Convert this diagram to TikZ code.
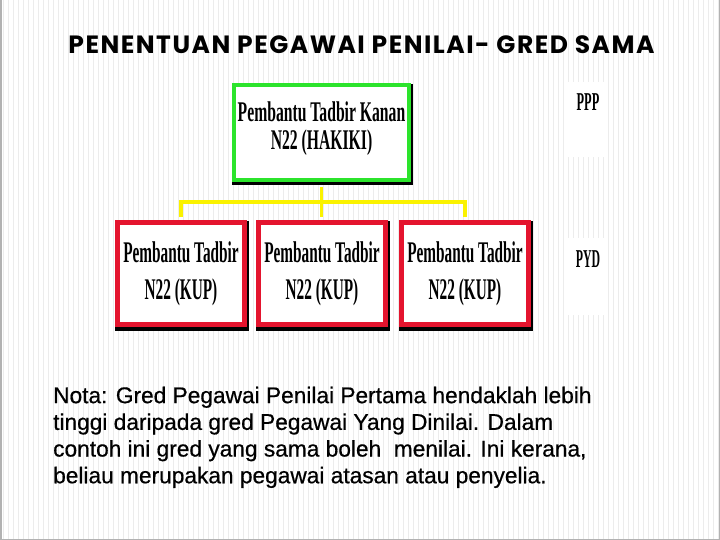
\documentclass[tikz,border=0pt]{standalone}
\usepackage{fontspec}
\setmainfont{Liberation Serif}
\newfontfamily\titlefont[LetterSpace=6]{Poppins}
\newfontfamily\notafont[FakeBold=0.6]{Liberation Sans}
\usetikzlibrary{positioning}
\definecolor{boxgreen}{RGB}{44,228,44}
\definecolor{boxred}{RGB}{228,20,46}
\definecolor{linkyellow}{RGB}{250,242,0}
\definecolor{stripegray}{RGB}{236,236,236}
\newcommand{\cnd}[2][0.55]{\scalebox{#1}[1]{#2}} % condensed line of box text

\tikzset{
  pegawai/.style={rectangle, fill=white, inner sep=0pt, align=center},
  hakikibox/.style={pegawai, draw=boxgreen, line width=4pt,
    minimum width=175pt, minimum height=95pt,
    font=\bfseries\fontsize{28.5}{28}\selectfont,
    preaction={draw=black, line width=6pt, transform canvas={xshift=0.5pt, yshift=-2pt}}},
  kupbox/.style={pegawai, draw=boxred, line width=5pt,
    minimum width=127pt, minimum height=102pt,
    font=\bfseries\fontsize{30}{37}\selectfont,
    preaction={draw=black, line width=7pt, transform canvas={xshift=0.5pt, yshift=-2.5pt}}},
  link/.style={draw=linkyellow, line width=3.5pt},
  sidelabel/.style={inner sep=0pt, font=\bfseries\fontsize{25.7}{26}\selectfont}
}

\begin{document}
\begin{tikzpicture}[x=1pt, y=-1pt]
  \useasboundingbox (0,0) rectangle (720,540);
  % background
  \fill[white] (0,0) rectangle (720,540);
  \foreach \x in {3,8,...,718}
    \draw[stripegray, line width=1pt] (\x,0) -- (\x,540);
  \draw[gray!60, line width=1.5pt] (0.75,0) -- (0.75,539.25) -- (719.25,539.25) -- (719.25,0);

  % title
  \node[inner sep=0pt, anchor=base, font=\titlefont\bfseries\fontsize{25}{25}\selectfont]
    (title) at (361.5,54) {PENENTUAN PEGAWAI PENILAI- GRED SAMA};

  % boxes
  \node[hakikibox] (hakiki) at (321.5,132.5)
    {\cnd{Pembantu Tadbir Kanan}\\\cnd{N22 (HAKIKI)}\rule[-13pt]{0pt}{1pt}};
  \node[kupbox] (kup1) at (181,273.5) {\cnd[0.51]{Pembantu Tadbir}\\\cnd[0.51]{N22 (KUP)}};
  \node[kupbox] (kup2) at (322,273.5) {\cnd[0.51]{Pembantu Tadbir}\\\cnd[0.51]{N22 (KUP)}};
  \node[kupbox] (kup3) at (465,273.5) {\cnd[0.51]{Pembantu Tadbir}\\\cnd[0.51]{N22 (KUP)}};

  % connectors
  \coordinate (bus) at (321.5,202);
  \draw[link, shorten <=5pt, shorten >=2.5pt] (hakiki.south) -- (hakiki.south |- kup2.north);
  \draw[link, shorten <=2.5pt, shorten >=2.5pt] (kup1.north) |- (bus) -| (kup3.north);

  % PPP / PYD
  \fill[white] (567,82) rectangle (605,157);
  \fill[white] (567,238) rectangle (605,315);
  \node[sidelabel, anchor=base] (ppp) at (588,111) {\cnd[0.48]{PPP}};
  \node[sidelabel, anchor=base] (pyd) at (588,267) {\cnd[0.46]{PYD}};

  % nota
  \node[inner sep=0pt, anchor=north west, align=left,
    font=\notafont\fontsize{22.7}{26.7}\selectfont] (nota) at (53,386.5)
    {Nota: Gred Pegawai Penilai Pertama hendaklah lebih\\
     tinggi daripada gred Pegawai Yang Dinilai. Dalam\\
     contoh ini gred yang sama boleh\ \ menilai. Ini kerana,\\
     beliau merupakan pegawai atasan atau penyelia.};
\end{tikzpicture}
\end{document}
